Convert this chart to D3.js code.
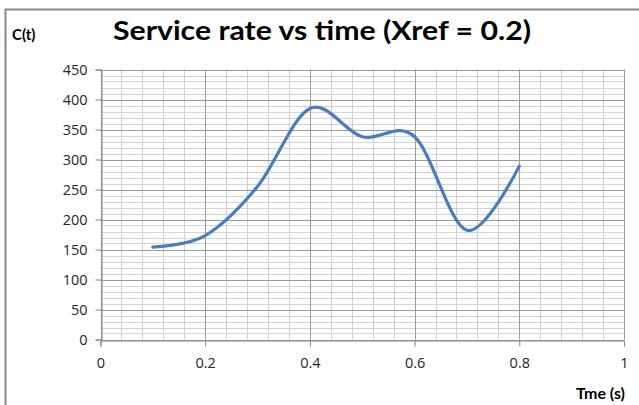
<!DOCTYPE html>
<html><head><meta charset="utf-8">
<script src="https://cdn.jsdelivr.net/npm/d3@7"></script>
<style>body{margin:0;background:#fff;} svg{display:block;}</style>
</head><body>
<svg id="c" width="639" height="405"></svg>
<script>
const timeValues = [0.1,0.2,0.3,0.4,0.5,0.6,0.7,0.8];
const serviceRate = [154,173,255,385,338,338,182,289];
const xTicks = [0,0.2,0.4,0.6,0.8,1];
const yTicks = [0,50,100,150,200,250,300,350,400,450];
const titleText = "Service rate vs time (Xref = 0.2)";
const yLabel = "C(t)";
const xLabel = "Tme (s)";

const svg = d3.select("#c");
const m = {l:100.5, r:624, t:69.5, b:339.5};
const x = d3.scaleLinear().domain([0,1]).range([m.l,m.r]);
const y = d3.scaleLinear().domain([0,450]).range([m.b,m.t]);

// outer frame
svg.append("rect").attr("x",5.5).attr("y",9.5).attr("width",660).attr("height",420)
  .attr("fill","none").attr("stroke","#8a8a8a").attr("stroke-width",2);

const g = svg.append("g");
// minor grid
const xMinor = d3.range(0,1.0001,0.04);
const yMinor = d3.range(0,450.001,10);
g.selectAll(".ym").data(yMinor).join("line")
  .attr("x1",m.l).attr("x2",m.r).attr("y1",d=>Math.round(y(d))+0.5).attr("y2",d=>Math.round(y(d))+0.5)
  .attr("stroke","#d4d4d4").attr("stroke-width",1);
g.selectAll(".xm").data(xMinor).join("line")
  .attr("y1",m.t).attr("y2",m.b).attr("x1",d=>Math.round(x(d))+0.5).attr("x2",d=>Math.round(x(d))+0.5)
  .attr("stroke","#cfcfcf").attr("stroke-width",1);
// major grid
g.selectAll(".yM").data(yTicks).join("line")
  .attr("x1",m.l).attr("x2",m.r).attr("y1",d=>Math.round(y(d))+0.5).attr("y2",d=>Math.round(y(d))+0.5)
  .attr("stroke","#9a9a9a").attr("stroke-width",1);
g.selectAll(".xM").data(xTicks).join("line")
  .attr("y1",m.t).attr("y2",m.b).attr("x1",d=>Math.round(x(d))+0.5).attr("x2",d=>Math.round(x(d))+0.5)
  .attr("stroke","#9a9a9a").attr("stroke-width",1);

// axes
const xAxis = d3.axisBottom(x).tickValues(xTicks).tickFormat(d=>String(d)).tickSize(6).tickPadding(11);
const yAxis = d3.axisLeft(y).tickValues(yTicks).tickFormat(d=>String(d)).tickSize(6).tickPadding(8);
const xa = svg.append("g").attr("transform",`translate(0,${Math.round(y(0))+0.5})`).call(xAxis);
const ya = svg.append("g").attr("transform",`translate(${Math.round(x(0))+0.5},0)`).call(yAxis);
[xa,ya].forEach(a=>{
  a.selectAll("path,line").attr("stroke","#868686");
  a.selectAll("text").attr("fill","#262626").style("font-family","Open Sans, sans-serif").style("font-size","14.5px");
});

// line (smoothed like the spreadsheet's smoothed line)
const line = d3.line().x((d,i)=>x(timeValues[i])).y(d=>y(d)).curve(d3.curveCatmullRom.alpha(0));
svg.append("path").datum(serviceRate).attr("d",line).attr("fill","none")
  .attr("stroke","#4a7ebb").attr("stroke-width",3.2).attr("stroke-linecap","round");

// texts
svg.append("text").attr("x",322).attr("y",40).attr("text-anchor","middle")
  .attr("textLength",418).attr("lengthAdjust","spacingAndGlyphs")
  .style("font-family","Lato, sans-serif").style("font-weight","bold").style("font-size","26px")
  .attr("fill","#000").text(titleText);
svg.append("text").attr("x",12).attr("y",40)
  .style("font-family","Lato, sans-serif").style("font-weight","bold").style("font-size","15px")
  .attr("fill","#000").text(yLabel);
svg.append("text").attr("x",625).attr("y",399).attr("text-anchor","end")
  .style("font-family","Lato, sans-serif").style("font-weight","bold").style("font-size","16px")
  .attr("fill","#000").text(xLabel);
</script>
</body></html>
